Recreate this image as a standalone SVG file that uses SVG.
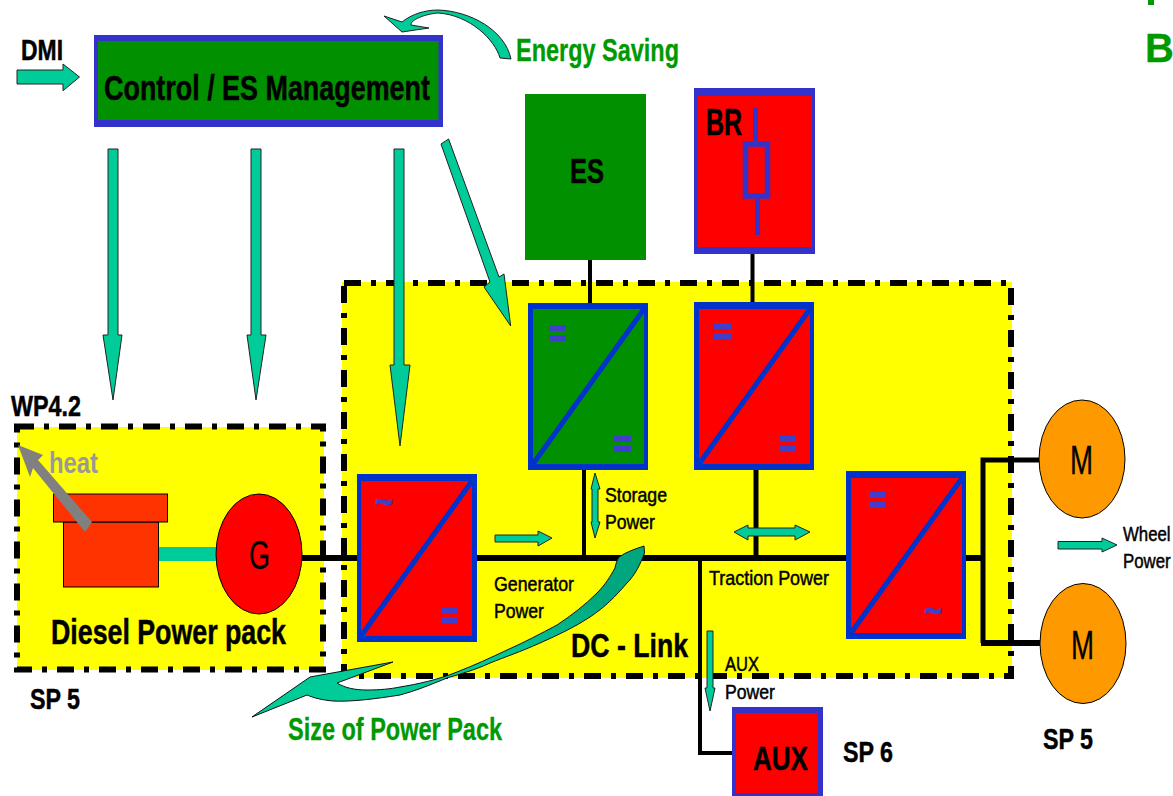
<svg xmlns="http://www.w3.org/2000/svg" width="1173" height="796" viewBox="0 0 1173 796">
<style>
text{font-family:"Liberation Sans",Arial,sans-serif;fill:#000}
.b{font-weight:700;stroke:#000;stroke-width:.5}
.g{fill:#009900;font-weight:700;stroke:#009900;stroke-width:.3}
.s{stroke:#000;stroke-width:.5}
.r{stroke:#000;stroke-width:.3}
.t{font-weight:700;font-size:38px;fill:#3f3fcc;stroke:#3f3fcc;stroke-width:.5}
.a{fill:#00cc99;stroke:#222;stroke-width:1}
.zone{fill:#ff0;stroke:none}
.dash{fill:none;stroke:#000;stroke-width:6;stroke-dasharray:17 10 5 10}
.w{fill:none;stroke:#000;stroke-linecap:butt;stroke-linejoin:miter}
.bl{fill:#0033cc}
.eq{fill:#3f3fcc}
.d{stroke:#0033cc;stroke-width:5;fill:none}
</style>
<defs><linearGradient id="sw" x1="0" y1="1" x2="1" y2="0"><stop offset="0" stop-color="#00cc99"/><stop offset=".45" stop-color="#00cc99"/><stop offset=".8" stop-color="#00a67d"/><stop offset="1" stop-color="#00a67d"/></linearGradient></defs>
<rect width="1173" height="796" fill="#fff"/>
<g id="zone-dc"><rect class="zone" x="342" y="282" width="670" height="396"/><rect class="dash" x="344" y="283" width="667" height="393"/></g>
<g id="zone-diesel"><rect class="zone" x="17" y="427" width="307" height="243"/><rect class="dash" x="17" y="426.500" width="306" height="243"/></g>
<g id="connectors">
<path class="w" stroke-width="6" d="M302 558H357M477 558H846M966 558H983"/>
<path class="w" stroke-width="4" d="M590 260V304M584 470V558M752.500 254V304"/>
<path class="w" stroke-width="5" d="M756 470V558"/>
<path class="w" stroke-width="4" d="M700 558V753H733"/>
<path class="w" stroke-width="5" d="M1040 460H983V643"/>
<path class="w" stroke-width="6" d="M981 643H1040"/>
<rect x="159" y="547" width="58" height="14" fill="#00cc99"/>
<path class="a" d="M17 70H63V64L79.500 77 63 90.700V84H17Z"/>
<path class="a" d="M108 149H118V335H122L113 400 103 335H108Z"/>
<path class="a" d="M251 149H261V335H266L256 400 247 335H251Z"/>
<path class="a" d="M394 149H404V365H410L400 446 390 365H394Z"/>
<path class="a" d="M441 144 448.600 139 499 277 504 274 510.700 326 484 287 490 282Z"/>
<path class="a" d="M384 16 402 22C412 14 425 10 438 10 470 11 505 30 511 59L500 58C495 40 470 15 438 13 425 14 410 20 411 25L429 28 402 32Z"/>
<path class="a" d="M495 535H538V531L552 538 538 546V542H495Z"/>
<path class="a" d="M595 473 600 489H598V522H600L595 538 591 522H592V489H591Z"/>
<path class="a" d="M734 532 748 525V528H795V525L810 532 795 540V536H748V540Z"/>
<path class="a" d="M1058 541.500H1102V538L1117 545 1102 552V549H1058Z"/>
<path class="a" d="M707 631H713V688H715L710 711 705 688H707Z"/>
<path fill="url(#sw)" stroke="#111" stroke-width="1" d="M644 546 644.500 553C640 565 635 575 627 583 615 597 605 607 590 617 575 627 558 635 540 643 520 652 505 657 490 663 475 670 460 674 447 678 430 685 415 691 400 695 375 699 350 702 333 701 322 700 314 698 307 695L252 717 310 677 393 662 337 683C345 688 355 690 367 690 380 690 390 689 400 687 418 684 437 680 457 672 475 665 490 658 507 650 525 642 540 634 557 625 572 615 585 605 597 593 605 585 610 577 615 568 616 563 617 560 619 557 626 552 635 549 644 546Z"/>
</g>
<g id="control"><rect x="94" y="35" width="349" height="92" fill="#3333cc"/><rect x="98" y="41" width="340.500" height="79" fill="#009000"/><text class="b" x="104" y="100" font-size="35" textLength="326" lengthAdjust="spacingAndGlyphs">Control / ES Management</text></g>
<g id="es"><rect x="525" y="94" width="121" height="166" fill="#009000"/><text class="b" x="570" y="183" font-size="35" textLength="34" lengthAdjust="spacingAndGlyphs">ES</text></g>
<g id="br"><rect x="694" y="88" width="121" height="166" fill="#3333cc"/><rect x="698" y="96" width="114" height="151" fill="#f00"/><path d="M755.500 108V141" stroke="#3333cc" stroke-width="5"/><path d="M757.500 199V235" stroke="#3333cc" stroke-width="5"/><rect x="745.500" y="144" width="22" height="52" fill="#f00" stroke="#3333cc" stroke-width="5.500"/><text class="b" x="706" y="135" font-size="36" textLength="36" lengthAdjust="spacingAndGlyphs">BR</text></g>
<g id="conv-gen"><rect class="bl" x="357" y="474" width="120" height="168"/><rect x="361" y="481" width="111" height="155" fill="#f00"/><path class="d" d="M361 636 472 481"/><text class="t" x="375" y="515" textLength="18" lengthAdjust="spacingAndGlyphs">~</text><path class="eq" d="M441 608h16v6h-16zM441 617h16v6h-16z"/></g>
<g id="conv-es"><rect class="bl" x="528" y="303" width="120" height="167" /><rect x="533" y="309" width="111" height="155" fill="#009000"/><path class="d" d="M533 464 644 309"/><path class="eq" d="M549 325h17v6h-17zM549 335h17v6h-17zM614 436h17v6h-17zM614 446h17v6h-17z"/></g>
<g id="conv-br"><rect class="bl" x="694" y="302" width="120" height="168"/><rect x="699" y="309" width="111" height="155" fill="#f00"/><path class="d" d="M699 464 810 309"/><path class="eq" d="M714 323h17v6h-17zM714 333h17v6h-17zM779 436h17v6h-17zM779 446h17v6h-17z"/></g>
<g id="conv-mot"><rect class="bl" x="846" y="471" width="120" height="168"/><rect x="851" y="478" width="111" height="155" fill="#f00"/><path class="d" d="M851 633 962 478"/><path class="eq" d="M869 492h17v6h-17zM869 502h17v6h-17z"/><text class="t" x="924" y="624" textLength="18" lengthAdjust="spacingAndGlyphs">~</text></g>
<g id="engine"><rect x="63.500" y="522" width="95" height="65" fill="#ff3300" stroke="#000"/><rect x="53.500" y="494" width="114" height="28" fill="#ff3300" stroke="#000"/></g>
<g id="heat"><path fill="#808080" d="M18 445 43 455 38 460 92 522 85 532 33 468 30 477Z"/><text x="49" y="473" font-size="30" font-weight="700" style="fill:#999" textLength="49" lengthAdjust="spacingAndGlyphs">heat</text></g>
<g id="gen"><ellipse cx="259" cy="554" rx="43" ry="60" fill="#f00" stroke="#000"/><text class="r" x="249" y="569" font-size="40" textLength="21" lengthAdjust="spacingAndGlyphs">G</text></g>
<g id="motor1"><ellipse cx="1082" cy="459" rx="43" ry="59" fill="#ff9900" stroke="#000"/><text class="r" x="1070" y="474" font-size="40" textLength="23" lengthAdjust="spacingAndGlyphs">M</text></g>
<g id="motor2"><ellipse cx="1083" cy="643.500" rx="43" ry="60" fill="#ff9900" stroke="#000"/><text class="r" x="1071" y="659" font-size="40" textLength="23" lengthAdjust="spacingAndGlyphs">M</text></g>
<g id="aux"><rect x="732" y="707" width="91" height="90" fill="#3333cc"/><rect x="736" y="713" width="82" height="80" fill="#f00"/><text class="b" x="753" y="770" font-size="34" textLength="55" lengthAdjust="spacingAndGlyphs">AUX</text></g>
<g id="labels">
<text class="b" x="21" y="60" font-size="30" textLength="42" lengthAdjust="spacingAndGlyphs">DMI</text>
<text class="g" x="516" y="61" font-size="32" textLength="163" lengthAdjust="spacingAndGlyphs">Energy Saving</text>
<text class="b" x="11" y="416" font-size="30" textLength="70" lengthAdjust="spacingAndGlyphs">WP4.2</text>
<text class="b" x="51" y="644" font-size="35" textLength="235" lengthAdjust="spacingAndGlyphs">Diesel Power pack</text>
<text class="b" x="30" y="709" font-size="30" textLength="50" lengthAdjust="spacingAndGlyphs">SP 5</text>
<text class="g" x="288" y="740" font-size="31" textLength="214" lengthAdjust="spacingAndGlyphs">Size of Power Pack</text>
<text class="s" x="605" y="502" font-size="21" textLength="62" lengthAdjust="spacingAndGlyphs">Storage</text>
<text class="s" x="605" y="529" font-size="21" textLength="50" lengthAdjust="spacingAndGlyphs">Power</text>
<text class="s" x="494" y="591" font-size="21" textLength="80" lengthAdjust="spacingAndGlyphs">Generator</text>
<text class="s" x="494" y="618" font-size="21" textLength="50" lengthAdjust="spacingAndGlyphs">Power</text>
<text class="s" x="709" y="585" font-size="21" textLength="120" lengthAdjust="spacingAndGlyphs">Traction Power</text>
<text class="s" x="725" y="671" font-size="21" textLength="34" lengthAdjust="spacingAndGlyphs">AUX</text>
<text class="s" x="725" y="699" font-size="21" textLength="50" lengthAdjust="spacingAndGlyphs">Power</text>
<text class="b" x="571" y="657" font-size="34" textLength="117" lengthAdjust="spacingAndGlyphs">DC - Link</text>
<text class="s" transform="translate(1123 541) scale(.8 1)" font-size="21">Wheel</text>
<text class="s" transform="translate(1123 568) scale(.8 1)" font-size="21">Power</text>
<text class="b" x="843" y="762" font-size="30" textLength="50" lengthAdjust="spacingAndGlyphs">SP 6</text>
<text class="b" x="1043" y="749" font-size="30" textLength="50" lengthAdjust="spacingAndGlyphs">SP 5</text>
<rect x="1148" y="0" width="6" height="5" fill="#009900"/>
<text class="g" x="1145" y="62" font-size="40">B</text>
</g>
</svg>
